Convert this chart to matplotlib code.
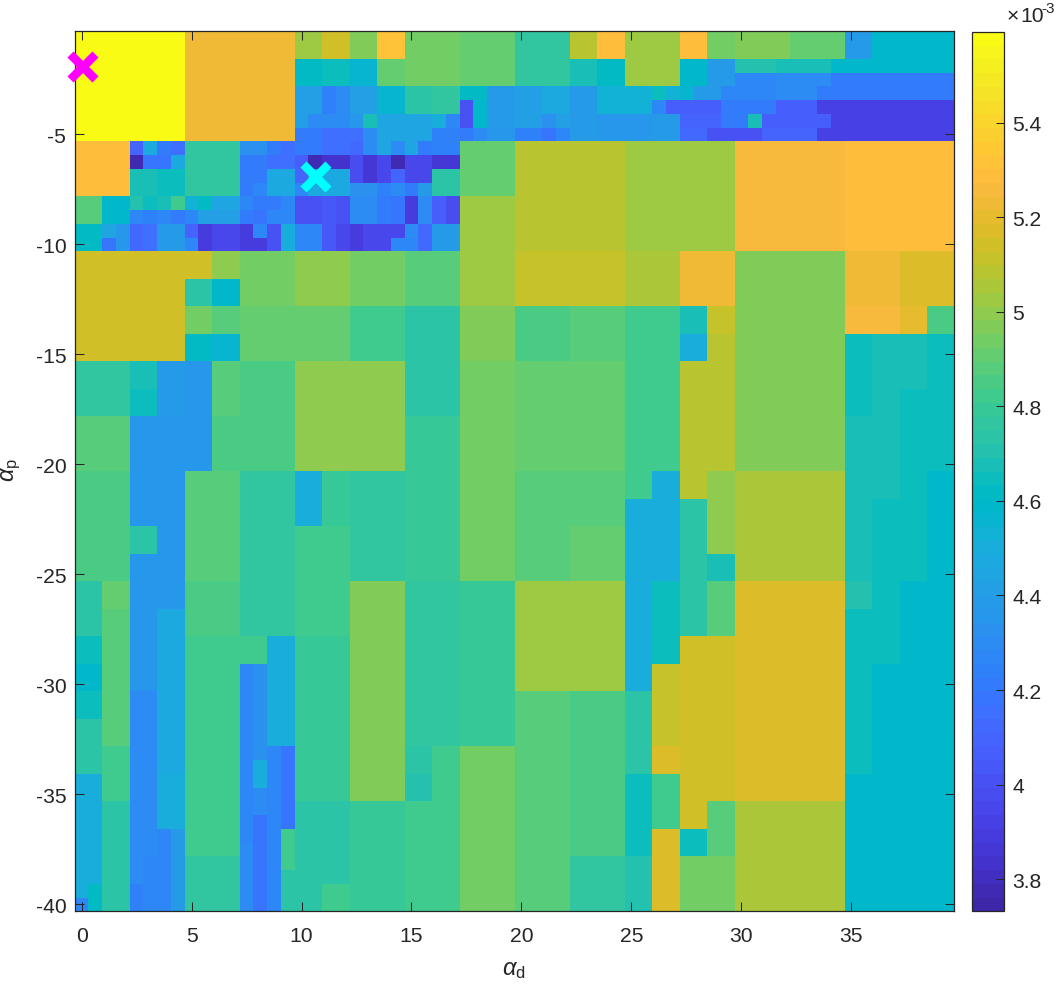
import numpy as np
import matplotlib
matplotlib.use('Agg')
import matplotlib.pyplot as plt
from matplotlib.colors import ListedColormap

plt.rcParams['font.family'] = ['Liberation Sans', 'DejaVu Sans']
plt.rcParams['axes.unicode_minus'] = False
plt.rcParams['mathtext.fontset'] = 'custom'
plt.rcParams['mathtext.rm'] = 'Liberation Sans'
plt.rcParams['mathtext.it'] = 'Liberation Sans:italic'

# parula, 64 levels
parula = [
    (.2422,.1504,.6603),(.2504,.1650,.7076),(.2578,.1818,.7511),(.2647,.1978,.7952),
    (.2706,.2147,.8364),(.2751,.2342,.8710),(.2783,.2559,.8991),(.2803,.2782,.9221),
    (.2813,.3006,.9414),(.2810,.3228,.9579),(.2795,.3447,.9717),(.2760,.3667,.9829),
    (.2699,.3892,.9906),(.2602,.4123,.9952),(.2440,.4358,.9988),(.2206,.4603,.9973),
    (.1963,.4847,.9892),(.1834,.5074,.9798),(.1786,.5289,.9682),(.1764,.5499,.9520),
    (.1687,.5703,.9359),(.1540,.5902,.9218),(.1460,.6091,.9079),(.1380,.6276,.8973),
    (.1248,.6459,.8883),(.1113,.6635,.8763),(.0952,.6798,.8598),(.0689,.6948,.8394),
    (.0297,.7082,.8163),(.0036,.7203,.7917),(.0067,.7312,.7660),(.0433,.7411,.7394),
    (.0964,.7500,.7120),(.1408,.7584,.6842),(.1717,.7670,.6554),(.1938,.7758,.6251),
    (.2161,.7843,.5923),(.2470,.7918,.5567),(.2906,.7973,.5188),(.3406,.8008,.4789),
    (.3909,.8029,.4354),(.4456,.8024,.3909),(.5044,.7993,.3480),(.5616,.7942,.3045),
    (.6174,.7876,.2612),(.6720,.7793,.2227),(.7242,.7698,.1910),(.7738,.7598,.1646),
    (.8203,.7498,.1535),(.8634,.7406,.1596),(.9035,.7330,.1774),(.9393,.7288,.2100),
    (.9728,.7298,.2394),(.9956,.7434,.2371),(.9970,.7659,.2199),(.9952,.7861,.1990),
    (.9892,.8134,.1885),(.9786,.8403,.1766),(.9676,.8666,.1643),(.9610,.8890,.1537),
    (.9597,.9135,.1423),(.9628,.9373,.1265),(.9691,.9606,.1064),(.9769,.9839,.0805),
]


def runs(*a):
    # value, how many columns, value, how many columns, ...
    out = []
    for v, n in zip(a[0::2], a[1::2]):
        out += [v] * n
    return out


# cost values (x 1e-3), one list per row of alpha_p, top row first
row_00 = runs(5.59,8, 5.23,8, 5.02,2, 5.14,2, 4.97,2, 5.32,2, 4.94,4, 4.91,4, 4.76,4, 5.08,2, 5.29,2, 5.02,4, 5.29,2, 4.94,2, 4.97,4, 4.91,4, 4.39,2, 4.58,6)
row_02 = runs(5.59,8, 5.23,8, 4.62,2, 4.64,2, 4.56,2, 4.91,2, 4.94,4, 4.91,4, 4.76,4, 4.67,2, 4.62,2, 5.02,4, 4.58,2, 4.39,2, 4.72,3, 4.67,4, 4.58,9)
row_03 = runs(5.59,8, 5.23,8, 4.62,2, 4.64,2, 4.56,2, 4.91,2, 4.94,4, 4.91,4, 4.76,4, 4.67,2, 4.62,2, 5.02,4, 4.58,2, 4.39,2, 4.27,3, 4.30,4, 4.21,9)
row_04 = runs(5.59,8, 5.23,8, 4.42,2, 4.24,1, 4.30,1, 4.42,2, 4.55,2, 4.74,2, 4.76,2, 4.62,1, 4.61,1, 4.39,2, 4.42,2, 4.47,2, 4.39,2, 4.52,4, 4.64,1, 4.53,1, 4.56,1, 4.39,2, 4.27,4, 4.30,3, 4.21,10)
row_05 = runs(5.59,8, 5.23,8, 4.42,2, 4.24,1, 4.30,1, 4.42,2, 4.55,2, 4.74,2, 4.76,2, 4.01,1, 4.58,1, 4.39,2, 4.42,2, 4.47,2, 4.39,2, 4.52,4, 4.27,1, 4.08,4, 4.21,4, 4.08,3, 3.93,10)
row_06 = runs(5.59,8, 5.23,8, 4.42,1, 4.30,3, 4.36,1, 4.67,1, 4.45,2, 4.43,2, 4.50,1, 4.27,1, 4.01,1, 4.58,1, 4.39,2, 4.42,2, 4.33,1, 4.42,1, 4.39,2, 4.36,4, 4.39,2, 4.10,3, 4.21,2, 4.67,1, 4.08,5, 3.93,9)
row_07 = runs(5.59,8, 5.23,8, 4.21,2, 4.15,2, 4.14,1, 4.30,1, 4.45,2, 4.43,2, 4.24,2, 4.21,1, 4.30,1, 4.36,2, 4.24,2, 4.19,1, 4.26,1, 4.39,2, 4.36,4, 4.39,2, 4.12,2, 4.01,4, 4.10,4, 3.93,10)
row_08 = runs(5.28,4, 4.10,1, 4.47,1, 4.21,1, 4.15,1, 4.76,4, 4.33,2, 4.21,1, 4.14,1, 4.21,2, 4.15,2, 4.12,1, 4.30,1, 4.45,1, 4.30,1, 4.45,1, 4.21,1, 4.24,2, 4.91,4, 5.08,8, 5.02,8, 5.26,8, 5.29,8)
row_09 = runs(5.28,4, 3.77,1, 4.19,2, 4.47,1, 4.76,4, 4.21,2, 4.14,2, 4.06,1, 3.78,1, 3.84,2, 3.97,1, 3.86,1, 3.94,1, 3.77,1, 3.94,2, 3.87,2, 4.91,4, 5.08,8, 5.02,8, 5.26,8, 5.29,8)
row_10 = runs(5.28,4, 4.67,2, 4.64,2, 4.76,4, 4.21,2, 4.47,2, 4.10,1, 4.47,3, 3.97,1, 3.86,1, 3.94,1, 4.10,1, 3.94,2, 4.73,2, 4.91,4, 5.08,8, 5.02,8, 5.26,8, 5.29,8)
row_11 = runs(5.28,4, 4.67,2, 4.64,2, 4.76,4, 4.21,1, 4.27,1, 4.47,2, 4.27,1, 4.47,3, 4.33,2, 4.24,1, 4.29,1, 4.21,1, 4.39,1, 4.73,2, 4.91,4, 5.08,8, 5.02,8, 5.26,8, 5.29,8)
row_12 = runs(4.87,2, 4.58,2, 4.70,1, 4.64,1, 4.67,1, 4.83,1, 4.53,1, 4.62,1, 4.45,2, 4.27,1, 4.21,2, 4.26,1, 4.01,2, 4.05,1, 4.01,1, 4.30,2, 4.21,1, 4.19,1, 3.90,1, 4.30,1, 4.06,1, 3.97,1, 5.02,4, 5.08,8, 5.02,8, 5.26,8, 5.29,8)
row_13 = runs(4.87,2, 4.58,2, 4.27,1, 4.24,1, 4.27,1, 4.21,1, 4.27,1, 4.42,3, 4.21,1, 4.19,1, 4.27,2, 4.01,2, 4.05,1, 4.01,1, 4.30,2, 4.21,1, 4.19,1, 3.90,1, 4.30,1, 4.06,1, 3.97,1, 5.02,4, 5.08,8, 5.02,8, 5.26,8, 5.29,8)
row_14 = runs(4.62,2, 4.45,1, 4.36,1, 4.12,1, 4.15,1, 4.39,2, 4.10,1, 3.90,1, 3.94,2, 3.90,1, 4.27,1, 4.01,1, 4.49,1, 4.27,2, 4.05,1, 3.94,1, 3.90,1, 3.94,3, 4.30,1, 4.12,1, 4.39,2, 5.02,4, 5.08,8, 5.02,8, 5.26,8, 5.29,8)
row_15 = runs(4.62,2, 4.19,1, 4.36,1, 4.12,1, 4.15,1, 4.39,2, 4.27,1, 3.90,1, 3.94,2, 3.90,2, 4.01,1, 4.49,1, 4.27,2, 4.05,1, 3.94,1, 3.90,1, 3.94,2, 4.27,2, 4.12,1, 4.39,2, 5.02,4, 5.08,8, 5.02,8, 5.26,8, 5.29,8)
row_16 = runs(5.14,10, 5.00,2, 4.94,4, 5.00,4, 4.94,4, 4.87,4, 5.02,4, 5.11,8, 5.06,4, 5.23,4, 4.97,8, 5.23,4, 5.18,4)
row_18 = runs(5.14,8, 4.73,2, 4.58,2, 4.94,4, 5.00,4, 4.94,4, 4.87,4, 5.02,4, 5.11,8, 5.06,4, 5.23,4, 4.97,8, 5.23,4, 5.18,4)
row_20 = runs(5.14,8, 4.94,2, 4.87,2, 4.91,8, 4.82,4, 4.73,4, 4.97,4, 4.85,4, 4.87,4, 4.82,4, 4.67,2, 5.11,2, 4.97,8, 5.26,4, 5.20,2, 4.85,2)
row_22 = runs(5.14,8, 4.62,2, 4.56,2, 4.91,8, 4.82,4, 4.73,4, 4.97,4, 4.85,4, 4.87,4, 4.82,4, 4.50,2, 5.08,2, 4.97,8, 4.64,2, 4.67,4, 4.64,2)
row_24 = runs(4.76,4, 4.67,2, 4.39,2, 4.36,2, 4.87,2, 4.85,4, 5.00,8, 4.73,4, 4.94,4, 4.91,8, 4.82,4, 5.08,4, 4.97,8, 4.64,2, 4.67,4, 4.64,2)
row_26 = runs(4.76,4, 4.64,2, 4.39,2, 4.36,2, 4.87,2, 4.85,4, 5.00,8, 4.73,4, 4.94,4, 4.91,8, 4.82,4, 5.08,4, 4.97,8, 4.64,2, 4.67,2, 4.64,4)
row_28 = runs(4.87,4, 4.36,6, 4.85,6, 5.00,8, 4.79,4, 4.94,4, 4.91,8, 4.82,4, 5.08,4, 4.97,8, 4.67,4, 4.64,4)
row_32 = runs(4.85,4, 4.36,4, 4.87,4, 4.76,4, 4.49,2, 4.79,2, 4.76,4, 4.79,4, 4.94,4, 4.87,8, 4.82,2, 4.50,2, 5.08,2, 5.00,2, 5.05,8, 4.67,4, 4.64,2, 4.58,2)
row_34 = runs(4.85,4, 4.36,4, 4.87,4, 4.76,4, 4.49,2, 4.79,2, 4.76,4, 4.79,4, 4.94,4, 4.87,8, 4.50,4, 4.74,2, 5.00,2, 5.05,8, 4.67,2, 4.64,4, 4.58,2)
row_36 = runs(4.85,4, 4.73,2, 4.36,2, 4.87,4, 4.76,4, 4.82,4, 4.76,4, 4.79,4, 4.94,4, 4.87,4, 4.91,4, 4.50,4, 4.74,2, 5.00,2, 5.05,8, 4.67,2, 4.64,4, 4.58,2)
row_38 = runs(4.85,4, 4.36,4, 4.87,4, 4.76,4, 4.82,4, 4.76,4, 4.79,4, 4.94,4, 4.87,4, 4.91,4, 4.50,4, 4.74,2, 4.67,2, 5.05,8, 4.67,2, 4.64,4, 4.58,2)
row_40 = runs(4.73,2, 4.91,2, 4.36,4, 4.85,4, 4.76,4, 4.82,4, 4.97,4, 4.76,4, 4.80,4, 5.02,8, 4.50,2, 4.64,2, 4.73,2, 4.87,2, 5.18,8, 4.70,2, 4.64,2, 4.58,4)
row_42 = runs(4.73,2, 4.87,2, 4.36,2, 4.47,2, 4.85,4, 4.76,4, 4.82,4, 4.97,4, 4.76,4, 4.80,4, 5.02,8, 4.50,2, 4.64,2, 4.73,2, 4.87,2, 5.18,8, 4.64,4, 4.58,4)
row_44 = runs(4.64,2, 4.87,2, 4.36,2, 4.47,2, 4.82,6, 4.49,2, 4.79,4, 4.97,4, 4.76,4, 4.80,4, 5.02,8, 4.50,2, 4.64,2, 5.14,4, 5.18,8, 4.64,4, 4.58,4)
row_46 = runs(4.58,2, 4.87,2, 4.36,2, 4.47,2, 4.82,4, 4.26,1, 4.33,1, 4.49,2, 4.79,4, 4.97,4, 4.76,4, 4.80,4, 5.02,8, 4.50,2, 5.11,2, 5.14,4, 5.18,8, 4.64,2, 4.58,6)
row_48 = runs(4.64,2, 4.87,2, 4.30,2, 4.47,2, 4.82,4, 4.26,1, 4.33,1, 4.49,2, 4.79,4, 4.97,4, 4.76,4, 4.80,4, 4.87,4, 4.85,4, 4.73,2, 5.11,2, 5.14,4, 5.18,8, 4.64,2, 4.58,6)
row_50 = runs(4.73,2, 4.89,2, 4.30,2, 4.47,2, 4.82,4, 4.26,1, 4.33,1, 4.49,2, 4.79,4, 4.97,4, 4.76,4, 4.80,4, 4.87,4, 4.85,4, 4.73,2, 5.11,2, 5.14,4, 5.18,8, 4.64,2, 4.58,6)
row_52 = runs(4.73,2, 4.83,2, 4.30,2, 4.47,2, 4.82,4, 4.26,1, 4.33,1, 4.26,1, 4.18,1, 4.79,4, 4.97,4, 4.73,2, 4.83,2, 4.94,4, 4.87,4, 4.85,4, 4.73,2, 5.18,2, 5.14,4, 5.18,8, 4.64,2, 4.58,6)
row_53 = runs(4.73,2, 4.83,2, 4.30,2, 4.47,2, 4.82,4, 4.26,1, 4.50,1, 4.26,1, 4.18,1, 4.79,4, 4.97,4, 4.73,2, 4.83,2, 4.94,4, 4.87,4, 4.85,4, 4.73,2, 5.18,2, 5.14,4, 5.18,8, 4.64,2, 4.58,6)
row_54 = runs(4.49,2, 4.83,2, 4.30,2, 4.49,2, 4.82,4, 4.26,1, 4.50,1, 4.26,1, 4.18,1, 4.79,4, 4.97,4, 4.70,2, 4.83,2, 4.94,4, 4.87,4, 4.85,4, 4.64,2, 4.83,2, 5.14,4, 5.18,8, 4.58,8)
row_55 = runs(4.49,2, 4.83,2, 4.30,2, 4.49,2, 4.82,4, 4.26,1, 4.30,1, 4.26,1, 4.18,1, 4.79,4, 4.97,4, 4.70,2, 4.83,2, 4.94,4, 4.87,4, 4.85,4, 4.64,2, 4.83,2, 5.14,4, 5.18,8, 4.58,8)
row_56 = runs(4.49,2, 4.73,2, 4.30,2, 4.49,2, 4.82,4, 4.26,1, 4.30,1, 4.26,1, 4.18,1, 4.73,4, 4.80,4, 4.83,4, 4.94,4, 4.87,4, 4.85,4, 4.64,2, 4.83,2, 5.14,2, 4.89,2, 5.05,8, 4.58,8)
row_57 = runs(4.49,2, 4.73,2, 4.30,2, 4.49,2, 4.82,4, 4.26,1, 4.19,1, 4.26,1, 4.18,1, 4.73,4, 4.80,4, 4.83,4, 4.94,4, 4.87,4, 4.85,4, 4.64,2, 4.83,2, 5.14,2, 4.89,2, 5.05,8, 4.58,8)
row_58 = runs(4.49,2, 4.73,2, 4.30,2, 4.27,1, 4.39,1, 4.82,4, 4.26,1, 4.19,1, 4.26,1, 4.83,1, 4.73,4, 4.80,4, 4.83,4, 4.94,4, 4.87,4, 4.85,4, 4.64,2, 5.18,2, 4.64,2, 4.89,2, 5.05,8, 4.58,8)
row_59 = runs(4.49,2, 4.73,2, 4.30,2, 4.27,1, 4.39,1, 4.82,4, 4.30,1, 4.19,1, 4.26,1, 4.83,1, 4.73,4, 4.80,4, 4.83,4, 4.94,4, 4.87,4, 4.85,4, 4.64,2, 5.18,2, 4.64,2, 4.89,2, 5.05,8, 4.58,8)
row_60 = runs(4.49,2, 4.73,2, 4.30,1, 4.27,2, 4.39,1, 4.76,4, 4.30,1, 4.19,1, 4.26,1, 4.83,1, 4.73,4, 4.80,4, 4.83,4, 4.94,4, 4.87,4, 4.76,4, 4.72,2, 5.18,2, 4.94,4, 5.05,8, 4.58,8)
row_61 = runs(4.49,2, 4.73,2, 4.30,1, 4.27,2, 4.39,1, 4.76,4, 4.30,1, 4.19,1, 4.26,1, 4.74,1, 4.73,4, 4.80,4, 4.83,4, 4.94,4, 4.87,4, 4.76,4, 4.72,2, 5.18,2, 4.94,4, 5.05,8, 4.58,8)
row_62 = runs(4.49,1, 4.61,1, 4.73,2, 4.24,1, 4.27,2, 4.39,1, 4.76,4, 4.30,1, 4.19,1, 4.26,1, 4.74,3, 4.82,2, 4.80,4, 4.83,4, 4.94,4, 4.87,4, 4.76,4, 4.72,2, 5.18,2, 4.94,4, 5.05,8, 4.58,8)
row_63 = runs(4.27,1, 4.61,1, 4.73,2, 4.24,1, 4.27,2, 4.39,1, 4.76,4, 4.30,1, 4.19,1, 4.26,1, 4.74,3, 4.82,2, 4.80,4, 4.83,4, 4.94,4, 4.87,4, 4.76,4, 4.72,2, 5.18,2, 4.94,4, 5.05,8, 4.58,8)

rows = [row_00, row_00, row_02, row_03, row_04, row_05, row_06, row_07,
        row_08, row_09, row_10, row_11, row_12, row_13, row_14, row_15,
        row_16, row_16, row_18, row_18, row_20, row_20, row_22, row_22,
        row_24, row_24, row_26, row_26, row_28, row_28, row_28, row_28,
        row_32, row_32, row_34, row_34, row_36, row_36, row_38, row_38,
        row_40, row_40, row_42, row_42, row_44, row_44, row_46, row_46,
        row_48, row_48, row_50, row_50, row_52, row_53, row_54, row_55,
        row_56, row_57, row_58, row_59, row_60, row_61, row_62, row_63]

x_ticks = [0, 5, 10, 15, 20, 25, 30, 35]
y_ticks = [-40, -35, -30, -25, -20, -15, -10, -5]
cbar_ticks = [3.8, 4, 4.2, 4.4, 4.6, 4.8, 5, 5.2, 5.4]
cbar_labels = ['3.8', '4', '4.2', '4.4', '4.6', '4.8', '5', '5.2', '5.4']
c_min = 3.732
c_max = 5.592
best_start = (0, -1.875)
best_found = (10.625, -6.875)

dark = '#262626'
W, H = 1056, 987
Z = np.array(rows)
x_edges = np.arange(65) * 0.625 - 0.3125
y_edges = -0.3125 - np.arange(65) * 0.625

fig = plt.figure(figsize=(W / 100, H / 100), dpi=100)
ax = fig.add_axes([74.7 / W, 1 - 912.3 / H, 879.8 / W, 880 / H])
im = ax.pcolormesh(x_edges, y_edges, Z, cmap=ListedColormap(parula), vmin=c_min, vmax=c_max,
                   shading='flat', antialiased=False, linewidth=0)
# the markers hang over the axes edge in the reference
ax.plot(best_start[0], best_start[1], 'x', color='#ff00ff', ms=18, mew=6.2, clip_on=False, zorder=5)
ax.plot(best_found[0], best_found[1], 'x', color='#00ffff', ms=18, mew=6.2, clip_on=False, zorder=5)
ax.set_xlim(-0.3125, 39.6875)
ax.set_ylim(-40.3125, -0.3125)
ax.set_xticks(x_ticks)
ax.set_yticks(y_ticks)
ax.tick_params(direction='in', length=6.5, width=0.75, color=dark, labelcolor=dark,
               labelsize=15.2, top=True, right=True, pad=6)
ax.tick_params(axis='x', pad=10.5)
for s in ax.spines.values():
    s.set_linewidth(0.9)
    s.set_color(dark)

fig.text(514 / W, 1 - 970 / H, r'$\alpha_{\mathrm{d}}$', fontsize=17, color=dark, ha='center', va='center')
fig.text(11 / W, 1 - 470 / H, r'$\alpha_{\mathrm{p}}$', fontsize=17, color=dark, ha='center', va='center', rotation=90)

cax = fig.add_axes([972.4 / W, 1 - 912.3 / H, 31.9 / W, 879.5 / H])
cb = fig.colorbar(im, cax=cax, ticks=cbar_ticks)
cb.ax.set_yticklabels(cbar_labels)
cb.ax.tick_params(direction='in', length=6, width=0.75, color=dark, labelcolor=dark,
                  labelsize=15.2, pad=6)
cb.outline.set_linewidth(0.9)
cb.outline.set_edgecolor(dark)
fig.text(1007 / W, 1 - 17 / H, '\u00d7', fontsize=15.2, color=dark, ha='left', va='center')
fig.text(1020.5 / W, 1 - 17 / H, '10', fontsize=15.2, color=dark, ha='left', va='center')
fig.text(1041.5 / W, 1 - 9 / H, '-3', fontsize=11, color=dark, ha='left', va='center')

fig.savefig('out.png', dpi=100)
